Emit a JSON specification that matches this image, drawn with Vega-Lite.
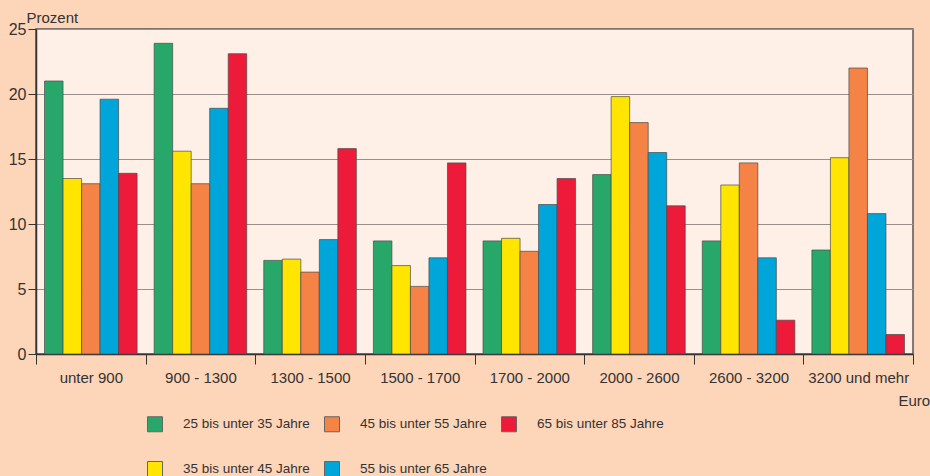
{
  "$schema": "https://vega.github.io/schema/vega-lite/v6.json",
  "width": 877,
  "height": 325,
  "autosize": "none",
  "padding": {"left": 36, "top": 29, "right": 17, "bottom": 122},
  "background": "#FDD5B9",
  "config": {
    "font": "Liberation Sans",
    "view": {"fill": "#FEF0E6", "stroke": "#555555", "strokeWidth": 1.5}
  },
  "data": {
    "values": [
      {"g": "unter 900", "a": "25 bis unter 35 Jahre", "v": 21.0},
      {"g": "unter 900", "a": "35 bis unter 45 Jahre", "v": 13.5},
      {"g": "unter 900", "a": "45 bis unter 55 Jahre", "v": 13.1},
      {"g": "unter 900", "a": "55 bis unter 65 Jahre", "v": 19.6},
      {"g": "unter 900", "a": "65 bis unter 85 Jahre", "v": 13.9},
      {"g": "900 - 1300", "a": "25 bis unter 35 Jahre", "v": 23.9},
      {"g": "900 - 1300", "a": "35 bis unter 45 Jahre", "v": 15.6},
      {"g": "900 - 1300", "a": "45 bis unter 55 Jahre", "v": 13.1},
      {"g": "900 - 1300", "a": "55 bis unter 65 Jahre", "v": 18.9},
      {"g": "900 - 1300", "a": "65 bis unter 85 Jahre", "v": 23.1},
      {"g": "1300 - 1500", "a": "25 bis unter 35 Jahre", "v": 7.2},
      {"g": "1300 - 1500", "a": "35 bis unter 45 Jahre", "v": 7.3},
      {"g": "1300 - 1500", "a": "45 bis unter 55 Jahre", "v": 6.3},
      {"g": "1300 - 1500", "a": "55 bis unter 65 Jahre", "v": 8.8},
      {"g": "1300 - 1500", "a": "65 bis unter 85 Jahre", "v": 15.8},
      {"g": "1500 - 1700", "a": "25 bis unter 35 Jahre", "v": 8.7},
      {"g": "1500 - 1700", "a": "35 bis unter 45 Jahre", "v": 6.8},
      {"g": "1500 - 1700", "a": "45 bis unter 55 Jahre", "v": 5.2},
      {"g": "1500 - 1700", "a": "55 bis unter 65 Jahre", "v": 7.4},
      {"g": "1500 - 1700", "a": "65 bis unter 85 Jahre", "v": 14.7},
      {"g": "1700 - 2000", "a": "25 bis unter 35 Jahre", "v": 8.7},
      {"g": "1700 - 2000", "a": "35 bis unter 45 Jahre", "v": 8.9},
      {"g": "1700 - 2000", "a": "45 bis unter 55 Jahre", "v": 7.9},
      {"g": "1700 - 2000", "a": "55 bis unter 65 Jahre", "v": 11.5},
      {"g": "1700 - 2000", "a": "65 bis unter 85 Jahre", "v": 13.5},
      {"g": "2000 - 2600", "a": "25 bis unter 35 Jahre", "v": 13.8},
      {"g": "2000 - 2600", "a": "35 bis unter 45 Jahre", "v": 19.8},
      {"g": "2000 - 2600", "a": "45 bis unter 55 Jahre", "v": 17.8},
      {"g": "2000 - 2600", "a": "55 bis unter 65 Jahre", "v": 15.5},
      {"g": "2000 - 2600", "a": "65 bis unter 85 Jahre", "v": 11.4},
      {"g": "2600 - 3200", "a": "25 bis unter 35 Jahre", "v": 8.7},
      {"g": "2600 - 3200", "a": "35 bis unter 45 Jahre", "v": 13.0},
      {"g": "2600 - 3200", "a": "45 bis unter 55 Jahre", "v": 14.7},
      {"g": "2600 - 3200", "a": "55 bis unter 65 Jahre", "v": 7.4},
      {"g": "2600 - 3200", "a": "65 bis unter 85 Jahre", "v": 2.6},
      {"g": "3200 und mehr", "a": "25 bis unter 35 Jahre", "v": 8.0},
      {"g": "3200 und mehr", "a": "35 bis unter 45 Jahre", "v": 15.1},
      {"g": "3200 und mehr", "a": "45 bis unter 55 Jahre", "v": 22.0},
      {"g": "3200 und mehr", "a": "55 bis unter 65 Jahre", "v": 10.8},
      {"g": "3200 und mehr", "a": "65 bis unter 85 Jahre", "v": 1.5}
    ]
  },
  "mark": {"type": "bar", "stroke": "#4a4a4a", "strokeWidth": 1, "strokeOpacity": 0.7},
  "encoding": {
    "x": {
      "field": "g",
      "type": "nominal",
      "sort": null,
      "scale": {"paddingInner": 0, "paddingOuter": 0},
      "axis": {
        "title": "Euro",
        "titleFont": "Liberation Sans",
        "titleFontSize": 15,
        "titleFontWeight": "normal",
        "titleColor": "#333333",
        "titleAngle": 0,
        "titleAlign": "left",
        "titleBaseline": "alphabetic",
        "titleX": 862,
        "titleY": 51,
        "labelAngle": 0,
        "labelFontSize": 15,
        "labelColor": "#333333",
        "labelPadding": 6,
        "tickBand": "extent",
        "tickSize": 10,
        "tickColor": "#333333",
        "domainColor": "#333333",
        "domainWidth": 1.5
      }
    },
    "xOffset": {
      "field": "a",
      "type": "nominal",
      "scale": {"paddingInner": 0, "paddingOuter": 0.46}
    },
    "y": {
      "field": "v",
      "type": "quantitative",
      "scale": {"domain": [0, 25]},
      "axis": {
        "values": [0, 5, 10, 15, 20, 25],
        "title": "Prozent",
        "titleFontSize": 15,
        "titleFontWeight": "normal",
        "titleColor": "#333333",
        "titleAngle": 0,
        "titleAlign": "left",
        "titleBaseline": "alphabetic",
        "titleX": -10,
        "titleY": -7,
        "labelFontSize": 16,
        "labelColor": "#333333",
        "labelPadding": 2,
        "tickSize": 8,
        "tickColor": "#333333",
        "domainColor": "#333333",
        "domainWidth": 1.5,
        "grid": true,
        "gridColor": "#9a8f88",
        "gridWidth": 1.2
      }
    },
    "color": {
      "field": "a",
      "type": "nominal",
      "scale": {
        "domain": ["25 bis unter 35 Jahre", "35 bis unter 45 Jahre", "45 bis unter 55 Jahre", "55 bis unter 65 Jahre", "65 bis unter 85 Jahre"],
        "range": ["#27A86A", "#FFE500", "#F58345", "#00A6D9", "#EE1A3A"]
      },
      "legend": {
        "title": null,
        "orient": "none",
        "legendX": 111,
        "legendY": 387,
        "direction": "horizontal",
        "columns": 3,
        "values": ["25 bis unter 35 Jahre", "45 bis unter 55 Jahre", "65 bis unter 85 Jahre", "35 bis unter 45 Jahre", "55 bis unter 65 Jahre"],
        "symbolType": "square",
        "symbolSize": 225,
        "symbolStrokeColor": "#666666",
        "symbolStrokeWidth": 1,
        "symbolOpacity": 1,
        "labelFont": "Liberation Sans",
        "labelFontSize": 13.5,
        "labelColor": "#333333",
        "labelOffset": 20,
        "labelLimit": 300,
        "columnPadding": 12,
        "rowPadding": 25,
        "symbolOffset": 0
      }
    }
  }
}
